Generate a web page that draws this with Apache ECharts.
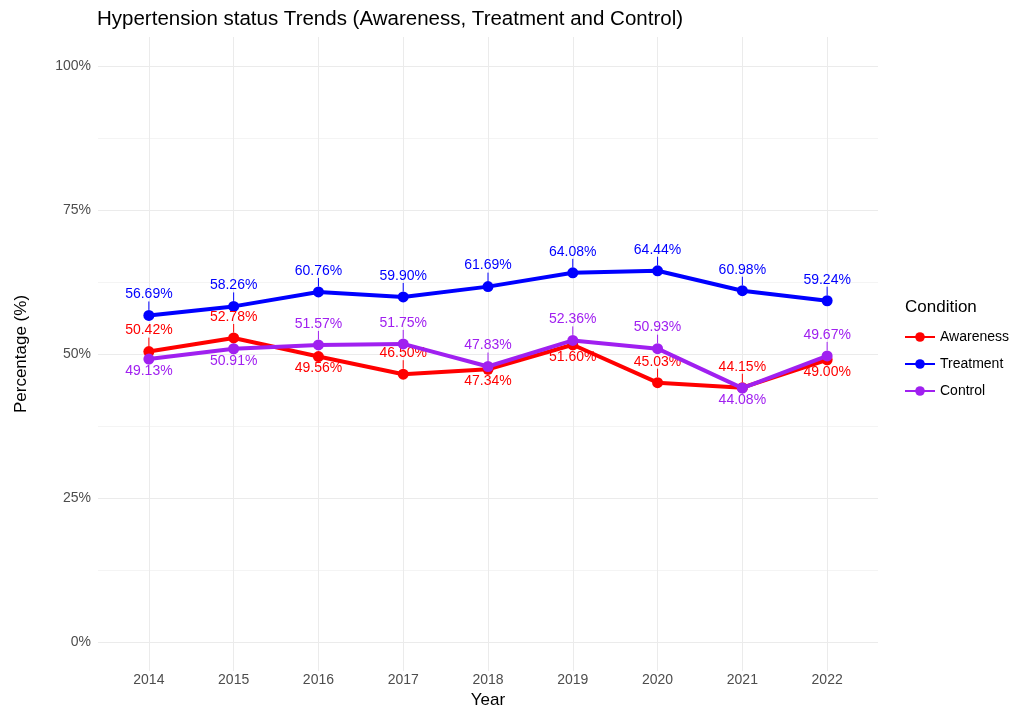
<!DOCTYPE html>
<html><head><meta charset="utf-8">
<script src="https://cdn.jsdelivr.net/npm/echarts@6/dist/echarts.min.js"></script>
<style>html,body{margin:0;padding:0;background:#fff}#c{width:1014px;height:708px}</style>
</head><body><div id="c"></div>
<script>
const years = [2014, 2015, 2016, 2017, 2018, 2019, 2020, 2021, 2022];
const awareness = [50.42, 52.78, 49.56, 46.50, 47.34, 51.60, 45.03, 44.15, 49.00];
const treatment = [56.69, 58.26, 60.76, 59.90, 61.69, 64.08, 64.44, 60.98, 59.24];
const control = [49.13, 50.91, 51.57, 51.75, 47.83, 52.36, 50.93, 44.08, 49.67];
const seriesNames = ['Awareness', 'Treatment', 'Control'];
const yTicks = [0, 25, 50, 75, 100];

// label placement (layout only): 1 = above, -1 = below
const side = {
  Awareness: [1, 1, -1, 1, -1, -1, 1, 1, -1],
  Treatment: [1, 1, 1, 1, 1, 1, 1, 1, 1],
  Control:   [-1, -1, 1, 1, 1, 1, 1, -1, 1]
};
const colors = { Awareness: '#FF0000', Treatment: '#0000FF', Control: '#A020F0' };
const values = { Awareness: awareness, Treatment: treatment, Control: control };

const FONT = '"Liberation Sans", Arial, sans-serif';
const chart = echarts.init(document.getElementById('c'));

function mkSeries(name) {
  const s = side[name];
  return {
    name: name, type: 'line',
    data: years.map((y, i) => [y, values[name][i]]),
    symbol: 'circle', symbolSize: 11,
    lineStyle: { width: 4, color: colors[name] },
    itemStyle: { color: colors[name] },
    label: {
      show: true, position: 'inside',
      formatter: p => p.value[1].toFixed(2) + '%',
      color: colors[name], fontSize: 14, fontFamily: FONT
    },
    labelLayout: p => ({ dy: s[p.dataIndex] > 0 ? -21 : 12 }),
    labelLine: { show: true, length2: 0, lineStyle: { color: colors[name], width: 1 } },
    emphasis: { disabled: true },
    z: name === 'Control' ? 3 : (name === 'Awareness' ? 2 : 1)
  };
}

const T = 'rgba(0,0,0,0)';
// x ticks every 0.2 from 2013.4 → whole years at index 3 (mod 5)
const xCols = [T, T, T, '#EBEBEB', T];
// y ticks every 2.5 from -5: majors at idx 2 (mod 10), minors at idx 7
const yCols = [T, T, '#EBEBEB', T, T, T, T, '#F4F4F4', T, T];

chart.setOption({
  animation: false,
  backgroundColor: '#fff',
  title: {
    text: 'Hypertension status Trends (Awareness, Treatment and Control)',
    left: 92, top: 4,
    textStyle: { fontSize: 20.5, fontWeight: 'normal', color: '#000', fontFamily: FONT }
  },
  grid: { left: 98, right: 136, top: 37, bottom: 37, outerBoundsMode: 'none', containLabel: false },
  legend: {
    data: seriesNames, orient: 'vertical', left: 899, top: 325,
    itemWidth: 30, itemHeight: 12, itemGap: 13,
    textStyle: { fontSize: 14, color: '#000', fontFamily: FONT },
    itemStyle: { borderWidth: 0 }
  },
  graphic: [{
    type: 'text', left: 905, top: 299,
    style: { text: 'Condition', fontSize: 17, fill: '#000', fontFamily: FONT }
  }],
  xAxis: {
    type: 'value', min: 2013.4, max: 2022.6, interval: 0.2,
    name: 'Year', nameLocation: 'middle', nameGap: 19,
    nameTextStyle: { fontSize: 17, color: '#000', fontFamily: FONT },
    axisLine: { show: false }, axisTick: { show: false },
    axisLabel: {
      color: '#4D4D4D', fontSize: 14, fontFamily: FONT, margin: 2,
      formatter: v => Math.abs(v - Math.round(v)) < 1e-6 && years.includes(Math.round(v)) ? String(Math.round(v)) : ''
    },
    splitLine: { show: true, lineStyle: { color: xCols, width: 1 } }
  },
  yAxis: {
    type: 'value', min: -5, max: 105, interval: 2.5,
    name: 'Percentage (%)', nameLocation: 'middle', nameGap: 68, nameRotate: 90,
    nameTextStyle: { fontSize: 17, color: '#000', fontFamily: FONT },
    axisLine: { show: false }, axisTick: { show: false },
    axisLabel: {
      color: '#4D4D4D', fontSize: 14, fontFamily: FONT, margin: 7,
      formatter: v => yTicks.some(t => Math.abs(v - t) < 1e-6) ? Math.round(v) + '%' : ''
    },
    splitLine: { show: true, lineStyle: { color: yCols, width: 1 } }
  },
  series: seriesNames.map(mkSeries)
});
</script></body></html>
